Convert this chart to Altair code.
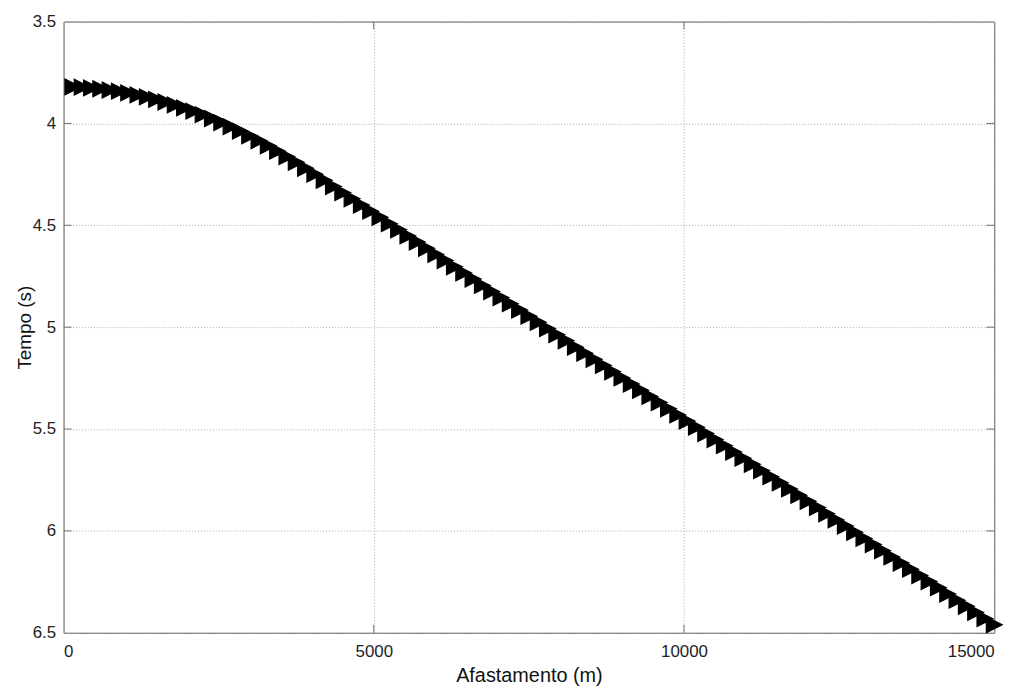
import altair as alt
import pandas as pd

# offsets (m) of the markers
offsets = list(range(150, 15001, 150))

# travel times (s)
times = [
    3.821, 3.822, 3.826, 3.830, 3.836, 3.842, 3.850, 3.860, 3.870, 3.882,
    3.895, 3.909, 3.924, 3.940, 3.957, 3.976, 3.996, 4.016, 4.038, 4.061,
    4.085, 4.110, 4.136, 4.163, 4.191, 4.220, 4.249, 4.279, 4.310, 4.340,
    4.370, 4.401, 4.431, 4.461, 4.492, 4.522, 4.552, 4.582, 4.613, 4.643,
    4.673, 4.704, 4.734, 4.764, 4.795, 4.825, 4.855, 4.885, 4.916, 4.946,
    4.976, 5.007, 5.037, 5.067, 5.098, 5.128, 5.158, 5.188, 5.219, 5.249,
    5.279, 5.310, 5.340, 5.370, 5.401, 5.431, 5.461, 5.491, 5.522, 5.552,
    5.582, 5.613, 5.643, 5.673, 5.704, 5.734, 5.764, 5.794, 5.825, 5.855,
    5.885, 5.916, 5.946, 5.976, 6.007, 6.037, 6.067, 6.097, 6.128, 6.158,
    6.188, 6.219, 6.249, 6.279, 6.310, 6.340, 6.370, 6.400, 6.431, 6.461,
]

x_ticks = [0, 5000, 10000, 15000]
y_ticks = [3.5, 4, 4.5, 5, 5.5, 6, 6.5]

W, H = 938, 616
FONT = "Liberation Sans"
TICK_COLOR = "#6e6e6e"

df = pd.DataFrame({"x": offsets, "t": times})
xt = pd.DataFrame({"x": x_ticks[1:-1]})
yt = pd.DataFrame({"t": y_ticks[1:-1]})

xs = alt.Scale(domain=[0, 15000], nice=False, zero=False)
ys = alt.Scale(domain=[3.5, 6.5], reverse=True, nice=False, zero=False)

points = alt.Chart(df).mark_point(
    shape="M-1,-1L1,0L-1,1Z", filled=True, size=255,
    fill="black", stroke="black", strokeWidth=1.2, opacity=1
).encode(
    x=alt.X("x:Q", scale=xs, axis=alt.Axis(
        values=x_ticks, format="d", title="Afastamento (m)",
        labelPadding=11, titleFontSize=20,
        titleY=43, titleBaseline="middle")),
    y=alt.Y("t:Q", scale=ys, axis=alt.Axis(
        values=y_ticks, labelExpr="'' + datum.value", title="Tempo (s)",
        labelPadding=8, titleFontSize=19,
        titleX=-39, titleY=H / 2, titleAngle=270, titleBaseline="middle",
        titleAlign="center")),
)

left_ticks = alt.Chart(yt).mark_rule(color=TICK_COLOR).encode(
    y=alt.Y("t:Q", scale=ys), x=alt.value(0), x2=alt.value(8))
right_ticks = alt.Chart(yt).mark_rule(color=TICK_COLOR).encode(
    y=alt.Y("t:Q", scale=ys), x=alt.value(W - 8), x2=alt.value(W))
bottom_ticks = alt.Chart(xt).mark_rule(color=TICK_COLOR).encode(
    x=alt.X("x:Q", scale=xs), y=alt.value(H - 8), y2=alt.value(H))
top_ticks = alt.Chart(xt).mark_rule(color=TICK_COLOR).encode(
    x=alt.X("x:Q", scale=xs), y=alt.value(0), y2=alt.value(8))

chart = alt.layer(points, left_ticks, right_ticks, bottom_ticks, top_ticks).properties(
    width=W, height=H,
    background="white",
    autosize=alt.AutoSizeParams(type="none"),
    padding={"left": 56, "top": 11, "right": 33, "bottom": 52},
).configure_view(
    stroke="#555555", strokeWidth=1
).configure_axis(
    domain=False, ticks=False, tickSize=0,
    grid=True, gridColor="#ababab", gridDash=[1, 2], gridWidth=1,
    labelFont=FONT, titleFont=FONT, labelFontSize=17,
    labelColor="#222222", titleColor="#111111", titleFontWeight="normal",
)

chart.save("out.html", embed_options={"renderer": "svg", "actions": False})
